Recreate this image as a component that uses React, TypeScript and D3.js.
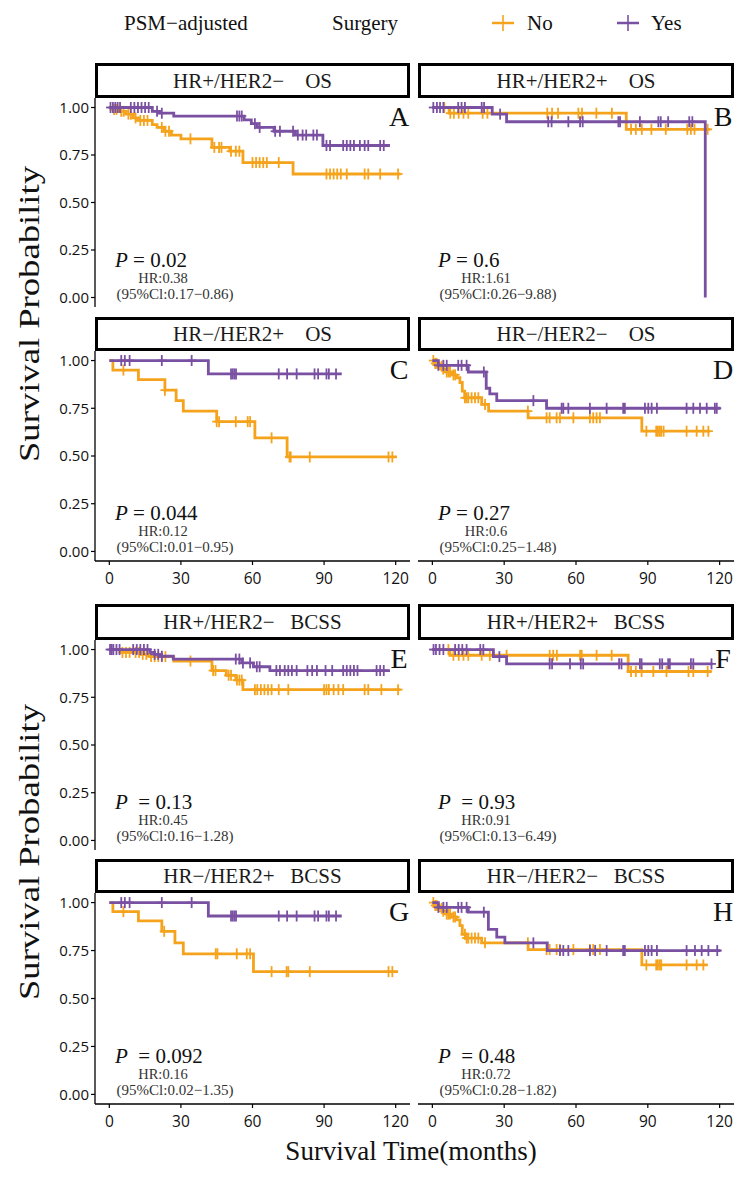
import React from "react";
import * as d3 from "d3";

type Pt = [number, number];

const W = 755;
const H = 1177;
const ORANGE = "#F5A31C";
const PURPLE = "#7A50A2";
const SERIF = "'Liberation Serif', 'Times New Roman', serif";
const SANS = "'Open Sans', 'DejaVu Sans', sans-serif";

// ---------- labels ----------
const panelLetters = ["A", "B", "C", "D", "E", "F", "G", "H"];
const stripLabels = [
  "HR+/HER2\u2212    OS",
  "HR+/HER2+    OS",
  "HR\u2212/HER2+    OS",
  "HR\u2212/HER2\u2212    OS",
  "HR+/HER2\u2212   BCSS",
  "HR+/HER2+   BCSS",
  "HR\u2212/HER2+   BCSS",
  "HR\u2212/HER2\u2212   BCSS",
];
const pValues = ["0.02", "0.6", "0.044", "0.27", "0.13", "0.93", "0.092", "0.48"];
const hrValues = ["0.38", "1.61", "0.12", "0.6", "0.45", "0.91", "0.16", "0.72"];
const ciValues = [
  "0.17\u22120.86",
  "0.26\u22129.88",
  "0.01\u22120.95",
  "0.25\u22121.48",
  "0.16\u22121.28",
  "0.13\u22126.49",
  "0.02\u22121.35",
  "0.28\u22121.82",
];
const xTicks = [0, 30, 60, 90, 120];
const yTicks = [0, 0.25, 0.5, 0.75, 1];
const groupLabels = ["No", "Yes"];

// ---------- survival data: [time, survival after step], last point = end of follow-up ----------
const stepsNoA: Pt[] = [[0, 1], [1, 0.99], [4, 0.98], [7, 0.965], [10, 0.945], [12, 0.932], [18, 0.91], [20, 0.895], [23, 0.875], [26, 0.855], [30, 0.835], [43, 0.79], [50.5, 0.77], [56, 0.71], [77, 0.65], [122, 0.65]];
const censorNoA = [2, 3, 5, 6, 8, 9, 11, 13, 14.5, 16, 22, 23.5, 25, 34, 44, 46, 47, 51, 53, 54.5, 60, 61.5, 63, 64.5, 66, 71, 91, 92.5, 94, 95.5, 97, 99.5, 107, 108.5, 113.5, 121];
const stepsYesA: Pt[] = [[0, 1], [18, 0.98], [21, 0.97], [27, 0.955], [56.5, 0.935], [59.5, 0.915], [62, 0.895], [69, 0.875], [78, 0.855], [89.5, 0.8], [117.6, 0.8]];
const censorYesA = [0.5, 1.5, 2.5, 3.5, 4.5, 9, 10.5, 12, 13.5, 15, 16.5, 20, 22, 53.5, 54.5, 55.5, 61, 63, 69.5, 71.5, 77, 79, 81, 82.5, 85.5, 87, 91, 92.5, 98, 99.5, 101, 102.5, 105, 107, 108.5, 113.5, 115];

const stepsNoB: Pt[] = [[0, 1], [7, 0.97], [81, 0.885], [116, 0.885]];
const censorNoB = [5, 7.5, 9, 11, 13, 15, 21, 23, 48, 50, 52.5, 61, 62.5, 68.5, 75, 83, 85, 87.5, 91.5, 97.5, 106.5, 108, 109.5, 115];
const stepsYesB: Pt[] = [[0, 1], [25, 0.965], [31, 0.925], [114, 0]];
const censorYesB = [0.4, 1.9, 3.2, 4.6, 10.8, 12.2, 13.6, 20.6, 21.6, 28.3, 48.4, 49.8, 56.8, 61.7, 62.8, 77.7, 78.4, 86.7, 94.4, 95.4, 98.5, 107.3, 108.6];

const stepsNoC: Pt[] = [[0, 1], [1.5, 0.95], [12.2, 0.9], [23.3, 0.845], [28, 0.79], [31, 0.735], [45, 0.68], [61, 0.595], [74.5, 0.495], [120.5, 0.495]];
const censorNoC = [5.9, 23.3, 45, 46, 53, 58, 59, 68, 75.5, 76, 84, 117, 118.6];
const stepsYesC: Pt[] = [[0, 1], [41.5, 0.93], [97.4, 0.93]];
const censorYesC = [5, 6.5, 8.5, 22, 34.5, 51, 51.7, 52.4, 53.1, 71, 74.5, 78.5, 86, 87.5, 91, 92, 95];

const stepsNoD: Pt[] = [[0, 1], [1, 0.985], [2.5, 0.97], [4, 0.955], [6, 0.94], [8, 0.925], [10, 0.91], [11.5, 0.885], [12.5, 0.84], [13.5, 0.805], [20.6, 0.77], [23.5, 0.735], [40, 0.7], [87.5, 0.63], [116, 0.63]];
const censorNoD = [0.4, 1.2, 1.8, 3.9, 4.6, 6, 6.7, 7.4, 8.8, 9.5, 13.6, 14.3, 15, 16.4, 17.8, 19.2, 22, 39.9, 47.7, 49, 51.9, 53.3, 58.9, 65.8, 67.2, 68.6, 70, 89.4, 93.5, 94.2, 95, 95.6, 96.6, 106.2, 110.4, 113.2, 115.3];
const stepsYesD: Pt[] = [[0, 1], [2.5, 0.975], [15, 0.94], [22.5, 0.855], [24, 0.825], [26.9, 0.79], [47.7, 0.75], [120.4, 0.75]];
const censorYesD = [2.5, 4.6, 6, 10.8, 12.2, 14.3, 21.5, 42.2, 54, 54.7, 56.8, 65.8, 72.8, 79.7, 80.4, 88.8, 90.2, 91.6, 93.8, 106.2, 109, 111.8, 114.6, 118, 118.8];

const stepsNoE: Pt[] = [[0, 1], [5, 0.985], [13, 0.975], [17, 0.963], [27, 0.94], [43, 0.89], [49, 0.865], [53, 0.84], [56, 0.79], [122, 0.79]];
const censorNoE = [5.5, 7, 8.5, 11, 12.5, 14, 15.5, 17.5, 19, 20.5, 22, 23.5, 34, 43.5, 44.5, 50, 51, 53.5, 54.5, 55.5, 61, 62, 63.5, 65, 66.5, 68, 71, 75, 90, 91, 92, 94, 96, 98, 107, 108.5, 114, 121];
const stepsYesE: Pt[] = [[0, 1], [17, 0.985], [19, 0.975], [21, 0.965], [26.8, 0.95], [55.5, 0.93], [60.4, 0.91], [67.3, 0.89], [117.6, 0.89]];
const censorYesE = [0.3, 1, 1.7, 3, 4.3, 10, 11.5, 13, 14.5, 16, 19, 20.5, 22, 53, 54.5, 56, 59, 61.8, 63, 70, 71.5, 73.5, 75, 76.5, 78.5, 83, 85, 87, 90.6, 93.4, 98, 99.5, 101, 102.5, 104, 112, 113.5, 115];

const stepsNoF: Pt[] = [[0, 1], [7.3, 0.97], [81.8, 0.885], [116.6, 0.885]];
const censorNoF = [6.7, 8.8, 11, 13, 15, 20.6, 24, 31, 49, 50.5, 52, 61.7, 62.4, 68.6, 74.9, 83, 85, 87.4, 92.3, 97.8, 107, 109, 115];
const stepsYesF: Pt[] = [[0, 1], [25.5, 0.963], [31, 0.925], [117, 0.925]];
const censorYesF = [0.5, 1.5, 3, 4.6, 9.5, 11, 12.5, 14.3, 20, 21.3, 28, 49, 50, 57.5, 62, 63, 78, 79, 86.7, 87.4, 95, 96, 98.5, 99.2, 108, 109, 116.6];

const stepsNoG: Pt[] = [[0, 1], [1.5, 0.953], [12.2, 0.905], [22, 0.85], [27.5, 0.79], [31, 0.733], [60.4, 0.64], [121, 0.64]];
const censorNoG = [5.9, 23, 44.6, 45.3, 53.4, 57.6, 59, 68, 74.3, 75, 84, 117, 118.6];
const stepsYesG: Pt[] = [[0, 1], [41.5, 0.93], [97.4, 0.93]];
const censorYesG = [5, 6.5, 8.5, 22, 34.5, 51, 51.7, 52.4, 53.1, 71, 74.5, 78.5, 86, 87.5, 91, 92, 95];

const stepsNoH: Pt[] = [[0, 1], [1, 0.985], [2.5, 0.97], [4, 0.955], [6, 0.94], [8, 0.925], [10, 0.91], [11.5, 0.88], [12.5, 0.835], [14, 0.815], [20.6, 0.79], [40, 0.755], [87.5, 0.675], [115, 0.675]];
const censorNoH = [0.4, 1.2, 1.8, 3.9, 4.6, 6, 6.7, 7.4, 8.8, 9.5, 13.6, 14.3, 15, 16.4, 17.8, 19.2, 22, 39.9, 47.7, 49, 51.9, 53.3, 58.9, 65.8, 67.2, 70, 89.4, 93.5, 94.2, 95, 95.6, 106.2, 110.4, 113.2];
const stepsYesH: Pt[] = [[0, 1], [2.5, 0.975], [15, 0.95], [23.4, 0.86], [26.9, 0.82], [30.3, 0.79], [48, 0.75], [120.4, 0.75]];
const censorYesH = [2.5, 4.6, 6, 10.8, 12.2, 14.3, 21.5, 42.2, 53.3, 54.7, 56.8, 65.8, 68, 72.8, 79.7, 80.4, 88.8, 90.2, 91.6, 93.8, 106.2, 109.7, 112.5, 115.3, 119];

const stepsNo = [stepsNoA, stepsNoB, stepsNoC, stepsNoD, stepsNoE, stepsNoF, stepsNoG, stepsNoH];
const censorNo = [censorNoA, censorNoB, censorNoC, censorNoD, censorNoE, censorNoF, censorNoG, censorNoH];
const stepsYes = [stepsYesA, stepsYesB, stepsYesC, stepsYesD, stepsYesE, stepsYesF, stepsYesG, stepsYesH];
const censorYes = [censorYesA, censorYesB, censorYesC, censorYesD, censorYesE, censorYesF, censorYesG, censorYesH];

// ---------- layout ----------
const COLS = [
  { x0: 95, x1: 410 },
  { x0: 418, x1: 734 },
];
const ROWS = [
  { s0: 63, p0: 98, p1: 307 },
  { s0: 317, p0: 351, p1: 561 },
  { s0: 604, p0: 640, p1: 850 },
  { s0: 859, p0: 893, p1: 1104 },
];

function survAt(steps: Pt[], t: number): number {
  let v = steps[0][1];
  for (let k = 0; k < steps.length; k++) {
    if (steps[k][0] <= t) v = steps[k][1];
  }
  return v;
}

function Curve({ steps, censor, color, x, y }: any) {
  const line = d3
    .line<Pt>()
    .x((d) => x(d[0]))
    .y((d) => y(d[1]))
    .curve(d3.curveStepAfter);
  return (
    <g>
      <path d={line(steps) || ""} fill="none" stroke={color} strokeWidth={2.8} />
      {censor.map((t: number, k: number) => {
        const cx = x(t);
        const cy = y(survAt(steps, t));
        return (
          <g key={k} stroke={color} strokeWidth={1.8}>
            <line x1={cx} x2={cx} y1={cy - 5.5} y2={cy + 5.5} />
            <line x1={cx - 4.5} x2={cx + 4.5} y1={cy} y2={cy} />
          </g>
        );
      })}
    </g>
  );
}

function Panel({ i }: { i: number }) {
  const row = ROWS[Math.floor(i / 2)];
  const col = COLS[i % 2];
  const x = d3.scaleLinear().domain([-6, 126]).range([col.x0, col.x1]);
  const y = d3.scaleLinear().domain([-0.05, 1.05]).range([row.p1, row.p0]);
  const isLeft = i % 2 === 0;
  const isBottom = Math.floor(i / 2) % 2 === 1;
  const y0 = y(0);
  const stripMid = (row.s0 + row.p0) / 2;
  return (
    <g>
      {/* strip */}
      <rect
        x={col.x0 + 1.5}
        y={row.s0 + 1.5}
        width={col.x1 - col.x0 - 3}
        height={row.p0 - row.s0 - 3}
        fill="#fff"
        stroke="#000"
        strokeWidth={3}
      />
      <text
        x={(col.x0 + col.x1) / 2}
        y={stripMid + 7}
        textAnchor="middle"
        fontFamily={SERIF}
        fontSize={21}
        fill="#1a1a1a"
        style={{ whiteSpace: "pre" }}
      >
        {stripLabels[i]}
      </text>

      {/* curves */}
      <Curve steps={stepsNo[i]} censor={censorNo[i]} color={ORANGE} x={x} y={y} />
      <Curve steps={stepsYes[i]} censor={censorYes[i]} color={PURPLE} x={x} y={y} />

      {/* panel letter */}
      <text x={col.x1 - 11} y={y(1) + 18.5} textAnchor="middle" fontFamily={SERIF} fontSize={28} fill="#111">
        {panelLetters[i]}
      </text>

      {/* annotations */}
      <text x={col.x0 + 20} y={y0 - 31} fontFamily={SERIF} fontSize={21} fill="#111" style={{ whiteSpace: "pre" }}>
        <tspan fontStyle="italic">P</tspan>
        <tspan>{(i >= 4 ? "  = " : " = ") + pValues[i]}</tspan>
      </text>
      <text x={col.x0 + 68} y={y0 - 15} textAnchor="middle" fontFamily={SERIF} fontSize={14.5} fill="#333">
        {"HR:" + hrValues[i]}
      </text>
      <text x={col.x0 + 80} y={y0 + 1} textAnchor="middle" fontFamily={SERIF} fontSize={15} fill="#333">
        {"(95%Cl:" + ciValues[i] + ")"}
      </text>

      {/* y axis */}
      {isLeft && (
        <g>
          <line x1={col.x0} x2={col.x0} y1={row.p0} y2={row.p1} stroke="#000" strokeWidth={1.3} />
          {yTicks.map((v) => (
            <g key={v}>
              <line x1={col.x0 - 4} x2={col.x0} y1={y(v)} y2={y(v)} stroke="#000" strokeWidth={1.2} />
              <text
                x={col.x0 - 6}
                y={y(v) + 5.3}
                textAnchor="end"
                fontFamily={SANS}
                fontSize={15}
                fill="#111"
              >
                {v.toFixed(2)}
              </text>
            </g>
          ))}
        </g>
      )}

      {/* x axis */}
      {isBottom && (
        <g>
          <line x1={col.x0} x2={col.x1} y1={row.p1} y2={row.p1} stroke="#000" strokeWidth={1.3} />
          {xTicks.map((v) => (
            <g key={v}>
              <line x1={x(v)} x2={x(v)} y1={row.p1} y2={row.p1 + 4} stroke="#000" strokeWidth={1.2} />
              <text x={x(v)} y={row.p1 + 23} textAnchor="middle" fontFamily={SANS} fontSize={15.5} fill="#111">
                {v}
              </text>
            </g>
          ))}
        </g>
      )}
    </g>
  );
}

export default function App() {
  const legendKeys = [
    { cx: 503, tx: 527, color: ORANGE },
    { cx: 628, tx: 651, color: PURPLE },
  ];
  return (
    <svg
      width={W}
      height={H}
      viewBox={`0 0 ${W} ${H}`}
      style={{ position: "absolute", left: 0, top: 0, background: "#fff" }}
    >
      <rect x={0} y={0} width={W} height={H} fill="#fff" />
      {/* legend */}
      <text x={124} y={30} fontFamily={SERIF} fontSize={21} fill="#111">
        PSM{"\u2212"}adjusted
      </text>
      <text x={332} y={30} fontFamily={SERIF} fontSize={21} fill="#111">
        Surgery
      </text>
      {legendKeys.map((k, j) => (
        <g key={j}>
          <line x1={k.cx - 11} x2={k.cx + 11} y1={23} y2={23} stroke={k.color} strokeWidth={2.5} />
          <line x1={k.cx} x2={k.cx} y1={15} y2={31} stroke={k.color} strokeWidth={1.6} />
          <text x={k.tx} y={30} fontFamily={SERIF} fontSize={21} fill="#111">
            {groupLabels[j]}
          </text>
        </g>
      ))}

      {d3.range(8).map((i) => (
        <Panel key={i} i={i} />
      ))}

      {/* axis titles */}
      {[314, 852].map((cy, k) => (
        <text
          key={k}
          transform={`translate(39, ${cy}) rotate(-90)`}
          textAnchor="middle"
          fontFamily={SERIF}
          fontSize={29}
          textLength={296}
          lengthAdjust="spacingAndGlyphs"
          fill="#111"
        >
          Survival Probability
        </text>
      ))}
      <text x={411} y={1160} textAnchor="middle" fontFamily={SERIF} fontSize={27} fill="#111">
        Survival Time(months)
      </text>
    </svg>
  );
}
